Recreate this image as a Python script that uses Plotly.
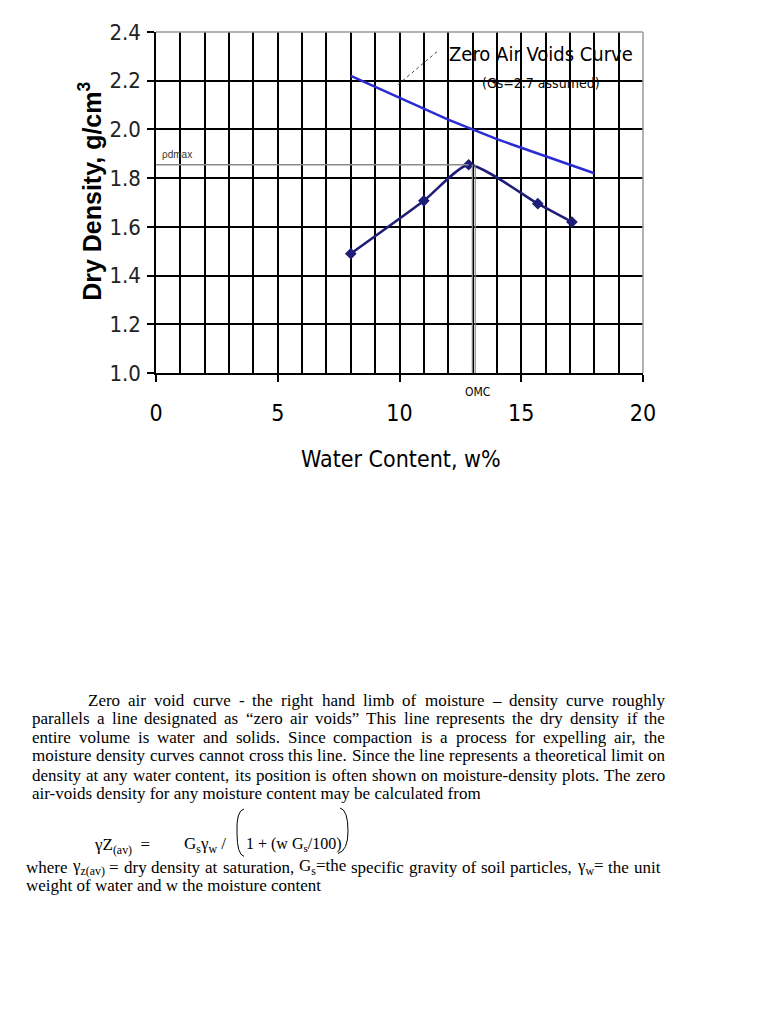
import re
import plotly.graph_objects as go

# compaction test points
water = [8.0, 11.0, 12.84, 15.68, 17.08]
dry_density = [1.49, 1.707, 1.855, 1.695, 1.62]

# zero air voids line, Gs = 2.7
zav_water = [8, 9, 10, 11, 12, 13, 14, 15, 16, 17, 18]
zav_density = [2.22, 2.175, 2.13, 2.085, 2.04, 2.0, 1.96, 1.925, 1.89, 1.855, 1.82]

x_ticks = [0, 5, 10, 15, 20]
y_ticks = [1.0, 1.2, 1.4, 1.6, 1.8, 2.0, 2.2, 2.4]

rho_dmax = 1.855
omc = 13.05

paragraph = [
    "Zero air void curve - the right hand limb of moisture \u2013 density curve roughly",
    "parallels a line designated as \u201czero air voids\u201d This line represents the dry density if the",
    "entire volume is water and solids. Since compaction is a process for expelling air, the",
    "moisture density curves cannot cross this line. Since the line represents a theoretical limit on",
    "density at any water content, its position is often shown on moisture-density plots. The zero",
    "air-voids density for any moisture content may be calculated from",
]
where_lines = [
    "where \u03b3<sub>z(av)</sub> = dry density at saturation, G<sub>s</sub>=the specific gravity of soil particles, \u03b3<sub>w</sub>= the unit",
    "weight of water and w the moisture content",
]

COND = "DejaVu Sans Condensed, Liberation Sans, sans-serif"
SERIF = "Liberation Serif, Times New Roman, serif"
TEXT_SIZE = 17

# plot area in reference pixels; the page body adds an 8px offset
L, R, T, B = 156, 643, 21, 373
OFF = 8

# Times / Liberation Serif advance widths (per 1000 em), used to justify lines
TIMES = dict(zip("abcdefghijklmnopqrstuvwxyz",
                 [444, 500, 444, 500, 444, 333, 500, 500, 278, 278, 500, 278, 778,
                  500, 500, 500, 500, 333, 389, 278, 500, 500, 722, 500, 500, 444]))
TIMES.update(zip("ABCDEFGHIJKLMNOPQRSTUVWXYZ",
                 [722, 667, 667, 722, 611, 556, 722, 722, 333, 389, 722, 611, 889,
                  722, 722, 556, 722, 667, 556, 611, 722, 722, 944, 722, 722, 611]))
TIMES.update({" ": 250, ",": 250, ".": 250, "-": 333, "(": 333, ")": 333, "/": 278,
              "=": 564, "+": 564, "\u2013": 500, "\u201c": 444, "\u201d": 444, "\u03b3": 450})


def text_width(s, size):
    w = 0
    for part, sub in re.findall(r"([^<]+)|<sub>(.*?)</sub>", s):
        if part:
            w += sum(TIMES.get(c, 500) for c in part) * size / 1000
        if sub:
            w += sum(TIMES.get(c, 500) for c in sub) * size * 0.7 / 1000
    return w


def px(x):
    return (x - L) / (R - L)


def py(y):
    return (B - y) / (B - T)


fig = go.Figure()

fig.add_trace(go.Scatter(x=zav_water, y=zav_density, mode="lines",
                         line=dict(color="#2b2bd6", width=2.5)))
fig.add_trace(go.Scatter(x=water, y=dry_density, mode="lines+markers",
                         line=dict(color="#1e1e78", width=2.5, shape="spline", smoothing=0.6),
                         marker=dict(symbol="diamond", size=9, color="#1e1e78")))

# rho dmax and OMC guide lines
fig.add_shape(type="line", x0=0, x1=water[2], y0=rho_dmax, y1=rho_dmax,
              line=dict(color="#8a8a8a", width=1.5))
for dx in (-0.06, 0.06):
    fig.add_shape(type="line", x0=omc + dx, x1=omc + dx, y0=1.0, y1=rho_dmax,
                  line=dict(color="#8a8a8a", width=1.2))

# light frame top and right
fig.add_shape(type="line", xref="paper", yref="paper", x0=0, x1=1, y0=1, y1=1,
              line=dict(color="#9a9a9a", width=1.5))
fig.add_shape(type="line", xref="paper", yref="paper", x0=1, x1=1, y0=0, y1=1,
              line=dict(color="#9a9a9a", width=1.5))

# pointer to the zero air voids curve
fig.add_shape(type="line", x0=9.94, y0=2.184, x1=11.54, y1=2.319,
              line=dict(color="#444444", width=1, dash="dot"))


def note(text, x, y, size, family=COND, xanchor="center", color="black", angle=0):
    fig.add_annotation(x=px(x), y=py(y), xref="paper", yref="paper",
                       xanchor=xanchor, yanchor="middle", textangle=angle,
                       text=text, showarrow=False,
                       font=dict(family=family, size=size, color=color))


def justified(line, y, left, right, size=TEXT_SIZE):
    words = line.split(" ")
    widths = [text_width(w, size) for w in words]
    gap = max((right - left - sum(widths)) / (len(words) - 1), 2)
    x = left
    for w, wd in zip(words, widths):
        note(w, x, y, size, family=SERIF, xanchor="left")
        x += wd + gap


note("Zero Air Voids Curve", 447, 44, 20, xanchor="left")
note("(Gs=2.7 assumed)", 541, 74, 14, color="black")
note("\u03c1dmax", 160, 147, 10, family="Liberation Sans, sans-serif", xanchor="left", color="#333333")
note("OMC", 477, 393, 12)

# axis titles
note("<b>Dry Density, g/cm<sup>3</sup></b>", 90, 186, 25,
     family="Liberation Sans, Arial, sans-serif", angle=-90)
note("Water Content, w%", 401, 462, 23)

# text below the chart
line_y = [711, 730, 749, 768, 788, 807]
for i, line in enumerate(paragraph):
    left = 86 if i == 0 else 30
    if i < len(paragraph) - 1:
        justified(line, line_y[i], left, 663)
    else:
        note(line, left, line_y[i], TEXT_SIZE, family=SERIF, xanchor="left")

# formula
note("\u03b3Z<sub>(av)</sub>  =", 92, 861, TEXT_SIZE, family=SERIF, xanchor="left")
note("G<sub>s</sub>\u03b3<sub>w</sub> /", 182, 860, TEXT_SIZE, family=SERIF, xanchor="left")
note("1 + (w G<sub>s</sub>/100)", 244, 860, TEXT_SIZE - 1, family=SERIF, xanchor="left")
fig.add_shape(type="path", xref="paper", yref="paper",
              path=f"M {px(244)},{py(823)} Q {px(236)},{py(825)} {px(237)},{py(848)} "
                   f"Q {px(237)},{py(870)} {px(244)},{py(872)}",
              line=dict(color="black", width=1))
fig.add_shape(type="path", xref="paper", yref="paper",
              path=f"M {px(340)},{py(822)} Q {px(348)},{py(824)} {px(348)},{py(846)} "
                   f"Q {px(348)},{py(866)} {px(338)},{py(869)}",
              line=dict(color="black", width=1))

justified(where_lines[0], 883, 24, 658)
note(where_lines[1], 24, 902, TEXT_SIZE, family=SERIF, xanchor="left")

fig.update_xaxes(range=[0, 20], tickvals=x_ticks, showgrid=True, gridcolor="black", gridwidth=1.8,
                 minor=dict(dtick=1, showgrid=True, gridcolor="black", gridwidth=1.8),
                 showline=True, linecolor="black", linewidth=1.5,
                 ticks="outside", ticklen=7, tickcolor="black", tickwidth=1.5,
                 ticklabelstandoff=12, zeroline=False,
                 tickfont=dict(family=COND, size=23, color="black"))
fig.update_yaxes(range=[1.0, 2.4], tickvals=y_ticks, tickformat=".1f",
                 showgrid=True, gridcolor="black", gridwidth=1.8,
                 showline=True, linecolor="black", linewidth=1.5,
                 ticks="outside", ticklen=7, tickcolor="black", tickwidth=1.5,
                 ticklabelstandoff=2, zeroline=False,
                 tickfont=dict(family=COND, size=22, color="#222222"))

fig.update_layout(width=768, height=1024, showlegend=False,
                  margin=dict(l=L - OFF, r=768 - R + OFF, t=T - OFF, b=1024 - B + OFF),
                  plot_bgcolor="white", paper_bgcolor="white")

fig.write_html("out.html")
